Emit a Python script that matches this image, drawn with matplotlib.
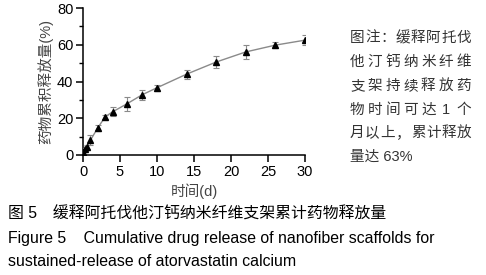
import matplotlib
matplotlib.use("Agg")
import matplotlib.pyplot as plt
from matplotlib.ticker import MultipleLocator

plt.rcParams['font.family'] = ['Liberation Sans', 'Noto Sans CJK SC']

# data
days = [0, 0.25, 0.5, 1, 2, 3, 4, 6, 8, 10, 14, 18, 22, 26, 30]
release = [1.5, 3.0, 4.5, 8.0, 14.8, 20.8, 23.5, 28.0, 32.8, 36.6, 44.0, 50.6, 56.1, 59.8, 62.5]
err = [0.8, 1.0, 1.2, 2.8, 1.5, 1.0, 2.5, 3.8, 2.8, 1.5, 2.5, 3.5, 4.0, 1.8, 2.8]

note_lines = ["图注：缓释阿托伐", "他汀钙纳米纤维", "支架持续释放药",
              ["物", "时", "间", "可", "达", "1", "个"], "月以上，累计释放"]
note_last = "量达 63%"
caption = ["图 5　缓释阿托伐他汀钙纳米纤维支架累计药物释放量",
           "Figure 5    Cumulative drug release of nanofiber scaffolds for",
           "sustained-release of atorvastatin calcium"]

fig = plt.figure(figsize=(4.86, 2.75), dpi=100)
ax = fig.add_axes([83/486, 1-155/275, (305-83)/486, (155-8)/275])

ax.errorbar(days, release, yerr=err, color='#8a8a8a', lw=1.0, ecolor='#8a8a8a',
            elinewidth=0.8, capsize=2, capthick=0.8, marker='^', ms=4,
            mfc='black', mec='black', zorder=3)

ax.set_xlim(0, 30)
ax.set_ylim(0, 80)
ax.xaxis.set_major_locator(MultipleLocator(5))
ax.yaxis.set_major_locator(MultipleLocator(20))
ax.yaxis.set_minor_locator(MultipleLocator(10))
for s in ['top', 'right']:
    ax.spines[s].set_visible(False)
for s in ['left', 'bottom']:
    ax.spines[s].set_linewidth(1.1)
ax.tick_params(which='major', length=5, width=1.1, labelsize=10.5, pad=2)
ax.tick_params(which='minor', length=3, width=1.0)
ax.set_xlabel("时间(d)", fontsize=10.5, color='#444444', labelpad=3)
ax.set_ylabel("药物累积释放量(%)", fontsize=10.5, color='#444444', labelpad=3)

# right-hand note, justified lines
x0, x1 = 350/486, 471/486
ys = [38, 62, 86, 110, 133]
for line, y in zip(note_lines, ys):
    chars = list(line)
    n = len(chars)
    for i, c in enumerate(chars):
        if i == 0:
            x, ha = x0, 'left'
        elif i == n - 1:
            x, ha = x1, 'right'
        else:
            x, ha = x0 + 7/486 + (x1 - x0 - 14/486) * i / (n - 1), 'center'
        fig.text(x, 1 - y/275, c, fontsize=10.5, color='#333333', ha=ha, va='center')
fig.text(x0, 1 - 157/275, note_last, fontsize=10.5, color='#333333', ha='left', va='center')

# caption
cy = [214, 238, 262]
for t, y in zip(caption, cy):
    fig.text(8/486, 1 - y/275, t, fontsize=11.4, color='black', ha='left', va='center')

fig.savefig("out.png", dpi=100)
